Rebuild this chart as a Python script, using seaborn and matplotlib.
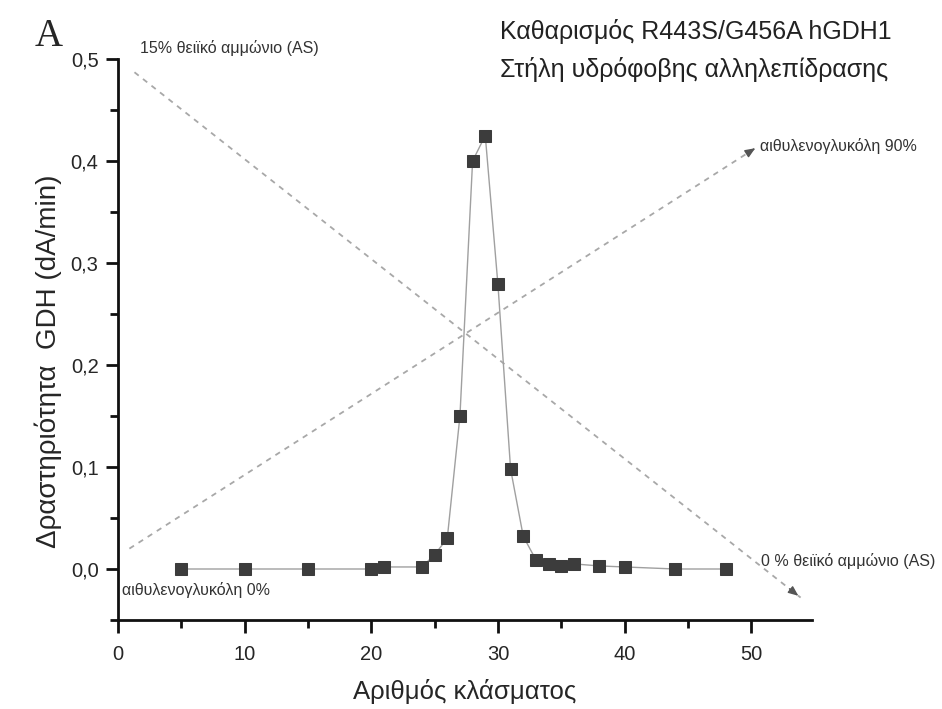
import numpy as np
import pandas as pd
import seaborn as sns
import matplotlib
matplotlib.use("Agg")
import matplotlib.pyplot as plt
from matplotlib.ticker import MultipleLocator, FuncFormatter

# Fraction number vs GDH activity
fraction = [5, 10, 15, 20, 21, 24, 25, 26, 27, 28, 29, 30, 31, 32, 33, 34, 35, 36, 38, 40, 44, 48]
activity = [0.0, 0.0, 0.0, 0.0, 0.002, 0.002, 0.014, 0.030, 0.150, 0.400, 0.425, 0.279, 0.098,
            0.032, 0.009, 0.005, 0.003, 0.005, 0.003, 0.002, 0.0, 0.0]

# Elution gradients (start, end) in data units
as_x = [1.3, 53.9]
as_y = [0.487, -0.028]
eg_x = [0.9, 50.5]
eg_y = [0.020, 0.414]

x_ticks = [0, 10, 20, 30, 40, 50]
y_ticks = [0.0, 0.1, 0.2, 0.3, 0.4, 0.5]

sns.set_style("ticks")
plt.rcParams["font.family"] = ["Liberation Sans", "DejaVu Sans"]

W, H = 942, 709
fig = plt.figure(figsize=(W / 100, H / 100), dpi=100)
ax = fig.add_axes([118 / W, 1 - 620 / H, (812 - 118) / W, (620 - 59) / H])

df = pd.DataFrame({"fraction": fraction, "activity": activity})
grad_color = "#a8a8a8"

# gradient lines
sns.lineplot(x=as_x, y=as_y, ax=ax, color=grad_color, lw=1.3, linestyle=(0, (3, 3)))
sns.lineplot(x=eg_x, y=eg_y, ax=ax, color=grad_color, lw=1.3, linestyle=(0, (3, 3)))
for gx, gy in ((as_x, as_y), (eg_x, eg_y)):
    dx = gx[1] - gx[0]
    dy = gy[1] - gy[0]
    ax.annotate("", xy=(gx[1], gy[1]), xytext=(gx[1] - dx * 0.02, gy[1] - dy * 0.02),
                arrowprops=dict(arrowstyle="-|>,head_length=0.6,head_width=0.25",
                                color="#555555", lw=1.0))

# activity profile
sns.lineplot(data=df, x="fraction", y="activity", ax=ax, color="#a0a0a0", lw=1.0,
             marker="s", markersize=9, markerfacecolor="#3c3c3c", markeredgecolor="#3c3c3c")

ax.set_xlim(0, 54.8)
ax.set_ylim(-0.05, 0.5)
ax.set_xticks(x_ticks)
ax.set_yticks(y_ticks)
ax.xaxis.set_minor_locator(MultipleLocator(5))
ax.yaxis.set_minor_locator(MultipleLocator(0.05))
ax.yaxis.set_major_formatter(FuncFormatter(lambda v, p: f"{v:.1f}".replace(".", ",")))
ax.xaxis.set_major_formatter(FuncFormatter(lambda v, p: f"{v:.0f}"))

for s in ("top", "right"):
    ax.spines[s].set_visible(False)
for s in ("left", "bottom"):
    ax.spines[s].set_linewidth(2)
    ax.spines[s].set_color("#111111")
ax.tick_params(which="major", length=9, width=2, labelsize=14.5, color="#111111")
ax.tick_params(axis="x", which="major", pad=9)
ax.tick_params(axis="y", which="major", pad=5)
ax.tick_params(which="minor", length=6, width=2, color="#111111")

ax.set_xlabel("Αριθμός κλάσματος", fontsize=18.5, va="center")
ax.xaxis.set_label_coords(0.5, (620 - 692) / 561)
ax.set_ylabel("Δραστηριότητα  GDH (dA/min)", fontsize=20, va="center")
ax.yaxis.set_label_coords((48 - 118) / 694, (620 - 361) / 561)

ax.text(1.7, 0.503, "15% θειϊκό αμμώνιο (AS)", fontsize=11.5, color="#333333", va="bottom")
ax.text(50.7, 0.415, "αιθυλενογλυκόλη 90%", fontsize=11.5, color="#333333", va="center")
ax.text(50.8, 0.008, "0 % θειϊκό αμμώνιο (AS)", fontsize=11.5, color="#333333", va="center")
ax.text(0.3, -0.021, "αιθυλενογλυκόλη 0%", fontsize=11.5, color="#333333", va="center")

fig.text(500 / W, 1 - 31 / H, "Καθαρισμός R443S/G456A hGDH1", fontsize=18,
         color="#222222", va="center")
fig.text(500 / W, 1 - 70 / H, "Στήλη υδρόφοβης αλληλεπίδρασης", fontsize=18,
         color="#222222", va="center")
fig.text(35 / W, 1 - 37 / H, "A", fontsize=28, family="Liberation Serif", va="center")

fig.savefig("out.png", dpi=100)
